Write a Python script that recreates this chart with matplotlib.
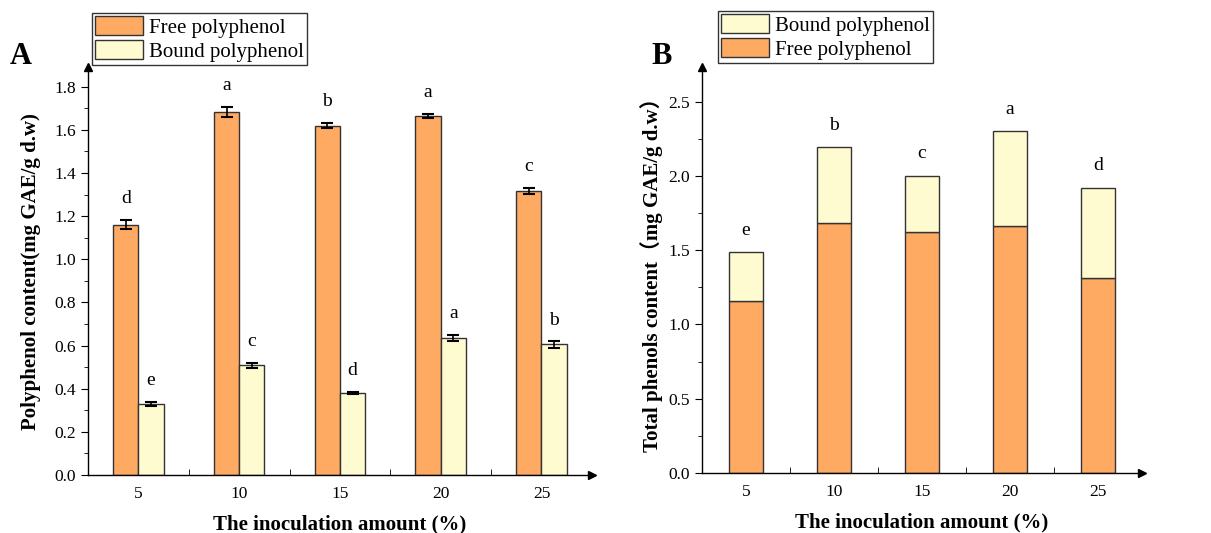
import numpy as np
import matplotlib
matplotlib.use('Agg')
import matplotlib.pyplot as plt
from matplotlib.patches import Patch
from matplotlib.ticker import MultipleLocator, FixedLocator, FormatStrFormatter

plt.rcParams['font.family'] = ['Liberation Serif', 'Noto Sans CJK SC']

# data
amounts = ['5', '10', '15', '20', '25']
free_vals = [1.16, 1.683, 1.62, 1.665, 1.315]
free_err = [0.02, 0.022, 0.012, 0.01, 0.014]
bound_vals = [0.328, 0.508, 0.38, 0.637, 0.605]
bound_err = [0.01, 0.012, 0.005, 0.014, 0.014]
free_letters = ['d', 'a', 'b', 'a', 'c']
bound_letters = ['e', 'c', 'd', 'a', 'b']
total_letters = ['e', 'b', 'c', 'a', 'd']

ORANGE = '#FFAA63'
YELLOW = '#FFFBD0'
EDGE = '#333333'

fig = plt.figure(figsize=(12.11, 5.33), dpi=100)
axA = fig.add_axes([0.0727, 0.1088, 0.416, 0.765])
axB = fig.add_axes([0.5797, 0.1126, 0.3633, 0.761])

x = np.arange(1, len(amounts) + 1)


def style_axis(ax, ymax, major, minor):
    ax.set_xlim(0.5, 5.5)
    ax.set_ylim(0, ymax)
    for s in ['top', 'right']:
        ax.spines[s].set_visible(False)
    for s in ['left', 'bottom']:
        ax.spines[s].set_linewidth(1.0)
    ax.set_xticks(x)
    ax.set_xticklabels(amounts)
    ax.xaxis.set_minor_locator(FixedLocator(x[:-1] + 0.5))
    ax.yaxis.set_major_locator(MultipleLocator(major))
    ax.yaxis.set_minor_locator(MultipleLocator(minor))
    ax.yaxis.set_major_formatter(FormatStrFormatter('%.1f'))
    ax.tick_params(axis='x', which='both', direction='in', length=4, labelsize=12.5, pad=8)
    ax.tick_params(axis='y', which='major', direction='out', length=5, labelsize=12.5)
    ax.tick_params(axis='y', which='minor', direction='out', length=3)
    # arrow heads at axis ends
    ax.plot(1, 0, '>k', ms=6, transform=ax.transAxes, clip_on=False)
    ax.plot(0, 1, '^k', ms=6, transform=ax.transAxes, clip_on=False)
    ax.set_xlabel('The inoculation amount (%)', fontsize=15, fontweight='bold', labelpad=9)


# panel A: grouped bars
w = 0.25
axA.bar(x - w / 2, free_vals, w, color=ORANGE, edgecolor=EDGE, linewidth=1.0, zorder=2)
axA.bar(x + w / 2, bound_vals, w, color=YELLOW, edgecolor=EDGE, linewidth=1.0, zorder=2)
axA.errorbar(x - w / 2, free_vals, yerr=free_err, fmt='none', ecolor='black',
             elinewidth=1.2, capsize=4, capthick=1.5, zorder=3)
axA.errorbar(x + w / 2, bound_vals, yerr=bound_err, fmt='none', ecolor='black',
             elinewidth=1.2, capsize=4, capthick=1.5, zorder=3)
for xi, v, e, t in zip(x, free_vals, free_err, free_letters):
    axA.text(xi - w / 2, v + e + 0.06, t, ha='center', va='bottom', fontsize=14)
for xi, v, e, t in zip(x, bound_vals, bound_err, bound_letters):
    axA.text(xi + w / 2, v + e + 0.06, t, ha='center', va='bottom', fontsize=14)
style_axis(axA, 1.89, 0.2, 0.1)
axA.set_ylabel('Polyphenol content(mg GAE/g d.w)', fontsize=15, fontweight='bold', labelpad=10)

# panel B: stacked bars
wb = 0.39
totals = [f + b for f, b in zip(free_vals, bound_vals)]
axB.bar(x, free_vals, wb, color=ORANGE, edgecolor=EDGE, linewidth=1.0, zorder=2)
axB.bar(x, bound_vals, wb, bottom=free_vals, color=YELLOW, edgecolor=EDGE, linewidth=1.0, zorder=2)
for xi, tot, t in zip(x, totals, total_letters):
    axB.text(xi, tot + 0.09, t, ha='center', va='bottom', fontsize=14)
style_axis(axB, 2.73, 0.5, 0.25)
axB.set_ylabel('Total phenols content（mg GAE/g d.w）', fontsize=15, fontweight='bold', labelpad=4)

# legends
leg_kw = dict(loc='upper left', fontsize=15, frameon=True, fancybox=False, edgecolor='black',
              handlelength=2.3, handleheight=1.05, borderpad=0.15, labelspacing=0.1,
              handletextpad=0.3, borderaxespad=0)
legA = fig.legend(handles=[Patch(facecolor=ORANGE, edgecolor=EDGE, label='Free polyphenol'),
                           Patch(facecolor=YELLOW, edgecolor=EDGE, label='Bound polyphenol')],
                  bbox_to_anchor=(92 / 1211, 1 - 13 / 533), **leg_kw)
legA.get_frame().set_linewidth(1.0)
legB = fig.legend(handles=[Patch(facecolor=YELLOW, edgecolor=EDGE, label='Bound polyphenol'),
                           Patch(facecolor=ORANGE, edgecolor=EDGE, label='Free polyphenol')],
                  bbox_to_anchor=(718 / 1211, 1 - 11 / 533), **leg_kw)
legB.get_frame().set_linewidth(1.0)

# panel letters
fig.text(10 / 1211, 1 - 57 / 533, 'A', fontsize=22, fontweight='bold', va='center', ha='left')
fig.text(651 / 1211, 1 - 57 / 533, 'B', fontsize=22, fontweight='bold', va='center', ha='left')

fig.savefig('out.png', dpi=100)
